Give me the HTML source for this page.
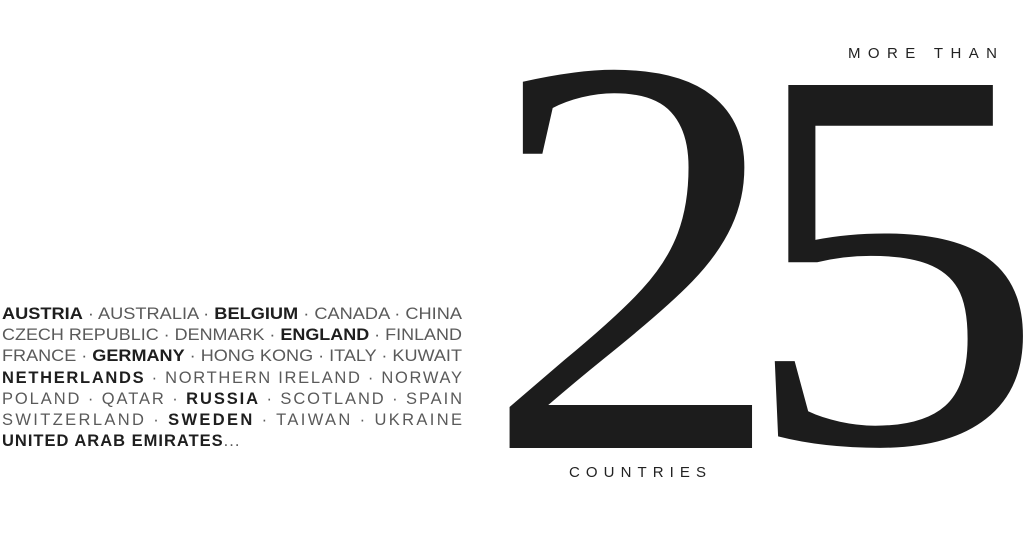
<!DOCTYPE html>
<html><head><meta charset="utf-8"><style>
html,body{margin:0;padding:0;background:#fff;width:1024px;height:537px;overflow:hidden;}
svg{display:block}
.l{font-family:"Liberation Sans",sans-serif;font-size:16.5px;fill:#5a5a5a;}
.b{fill:#1e1e1e;font-weight:bold;}
</style></head><body>
<svg width="1024" height="537" viewBox="0 0 1024 537" xmlns="http://www.w3.org/2000/svg">
<rect width="1024" height="537" fill="#fff"/>
<g class="l">
<text x="2" y="319" textLength="460" lengthAdjust="spacingAndGlyphs"><tspan class="b">AUSTRIA</tspan> · AUSTRALIA · <tspan class="b">BELGIUM</tspan> · CANADA · CHINA</text>
<text x="2" y="340" textLength="460" lengthAdjust="spacingAndGlyphs">CZECH REPUBLIC · DENMARK · <tspan class="b">ENGLAND</tspan> · FINLAND</text>
<text x="2" y="361" textLength="460" lengthAdjust="spacingAndGlyphs">FRANCE · <tspan class="b">GERMANY</tspan> · HONG KONG · ITALY · KUWAIT</text>
<text x="2" y="383" textLength="460" lengthAdjust="spacing"><tspan class="b">NETHERLANDS</tspan>  ·  NORTHERN  IRELAND  ·  NORWAY</text>
<text x="2" y="404" textLength="460" lengthAdjust="spacing">POLAND · QATAR · <tspan class="b">RUSSIA</tspan> · SCOTLAND · SPAIN</text>
<text x="2" y="425" textLength="460" lengthAdjust="spacing">SWITZERLAND · <tspan class="b">SWEDEN</tspan> · TAIWAN · UKRAINE</text>
<text x="2" y="446" letter-spacing="1"><tspan class="b">UNITED ARAB EMIRATES</tspan>...</text>
</g>
<g font-family="Liberation Serif, serif" font-size="560" fill="#1c1c1c">
<text transform="translate(483,448) scale(1.08,1.02)" x="0" y="0">2</text>
<text transform="translate(739,442.5) scale(1.1,0.975)" x="0" y="0">5</text>
</g>
<text x="848" y="58" textLength="149" lengthAdjust="spacing" font-family="Liberation Sans, sans-serif" font-size="15" fill="#222">MORE THAN</text>
<text x="569" y="477" textLength="137" lengthAdjust="spacing" font-family="Liberation Sans, sans-serif" font-size="15" fill="#222">COUNTRIES</text>
</svg>
</body></html>
